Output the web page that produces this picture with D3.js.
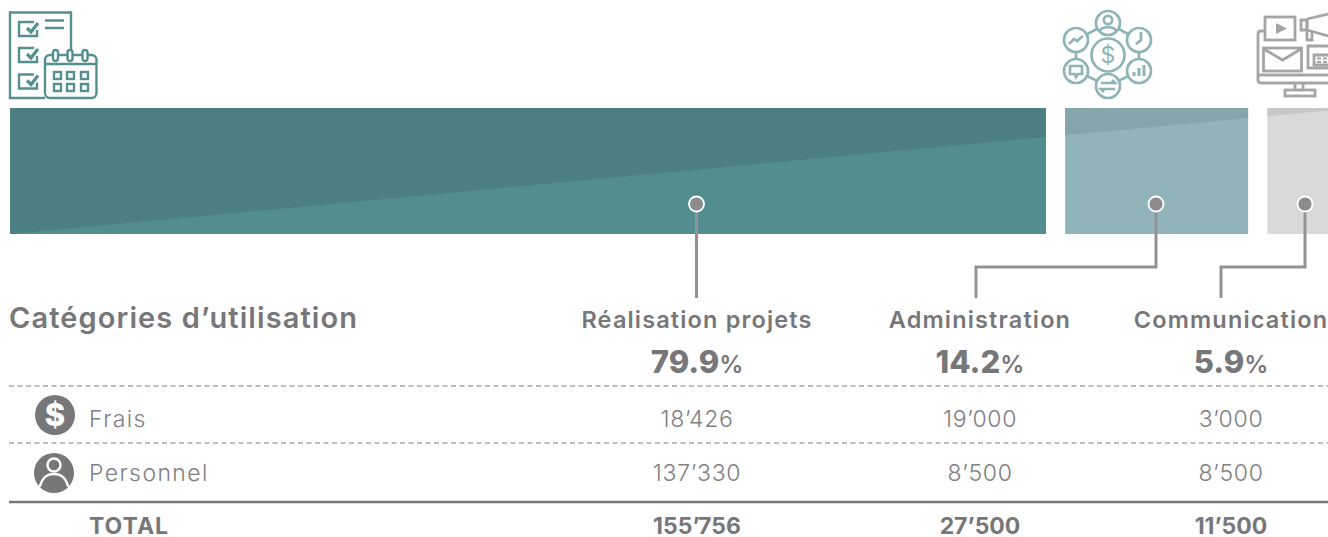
<!DOCTYPE html>
<html><head><meta charset="utf-8">
<script src="https://cdnjs.cloudflare.com/ajax/libs/d3/7.8.5/d3.min.js"></script>
<style>
html,body{margin:0;padding:0;background:#fff;overflow:hidden}
svg{display:block;font-family:Inter,"Open Sans",sans-serif}
</style></head><body>
<svg id="c" width="1328" height="537"></svg>
<script>
const categories = ["Réalisation projets","Administration","Communication"];
const frais = [18426,19000,3000];
const personnel = [137330,8500,8500];
const totals = [155756,27500,11500];
const percents = ["79.9","14.2","5.9"];
const fraisLabels = ["18’426","19’000","3’000"];
const personnelLabels = ["137’330","8’500","8’500"];
const totalLabels = ["155’756","27’500","11’500"];
const barFill = ["#528e8f","#90b4b7","#d9d9d9"];
const barShade = ["#4c7f81","#84a6aa","#c6c7c9"];

const svg = d3.select("#c");
const grand = d3.sum(totals);
const x = d3.scaleLinear().domain([0,grand]).range([0,1295.4]);
const gap = 19.2, left = 10, barTop = 108, barBottom = 234;
let run = 0;
const bars = totals.map((t,i)=>{const b={i,x0:left+x(run)+gap*i,w:x(t)};run+=t;return b;});
const slope = (137-234)/1036;
const shadeY = px => barBottom + (px-left)*slope;
const g = svg.append("g");
g.selectAll("rect.bar").data(bars).join("rect").attr("class","bar")
 .attr("x",d=>d.x0).attr("y",barTop).attr("width",d=>d.w).attr("height",barBottom-barTop)
 .attr("fill",d=>barFill[d.i]);
g.selectAll("path.shade").data(bars).join("path").attr("class","shade")
 .attr("fill",d=>barShade[d.i])
 .attr("d",d=>{const x1=d.x0+d.w;return d3.line()([[d.x0,barTop],[x1,barTop],[x1,shadeY(x1)],[d.x0,shadeY(d.x0)]])+"Z";});

// connectors
const grey="#939395";
const columns=[697,980,1231];
const anchors=[696.5,1156,1305];
const elbow=267, lineEnd=298, dotY=204;
anchors.forEach((a,i)=>{
  const pts = i===0 ? [[a,dotY],[a,lineEnd]] : [[a,dotY],[a,elbow],[i===1?976:1221,elbow],[i===1?976:1221,lineEnd]];
  svg.append("path").attr("d",d3.line()(pts)).attr("fill","none").attr("stroke",grey).attr("stroke-width",3);
  svg.append("circle").attr("cx",a).attr("cy",dotY).attr("r",7.5).attr("fill","#8c8c8f").attr("stroke","#fff").attr("stroke-width",1.8);
});

// text
const ink="#77777a", soft="#808083";
svg.append("text").attr("x",9).attr("y",328).attr("font-size",29).attr("font-weight",600).attr("fill",ink).attr("letter-spacing",1.1).text("Catégories d’utilisation");
svg.selectAll("text.h").data(categories).join("text").attr("class","h")
 .attr("x",(d,i)=>columns[i]).attr("y",327.5).attr("text-anchor","middle").attr("font-size",23.5).attr("font-weight",600).attr("fill",ink).attr("letter-spacing",1.15).text(d=>d);
const pct=svg.selectAll("text.p").data(percents).join("text").attr("class","p")
 .attr("x",(d,i)=>columns[i]).attr("y",373).attr("text-anchor","middle").attr("fill",ink);
pct.append("tspan").attr("font-size",31).attr("font-weight",800).text(d=>d);
pct.append("tspan").attr("font-size",24).attr("font-weight",600).text("%");

function row(labels,y,opts){
  svg.selectAll("text.r"+y).data(labels).join("text").attr("class","r"+y)
   .attr("x",(d,i)=>columns[i]).attr("y",y).attr("text-anchor","middle").attr("font-size",opts.size)
   .attr("font-weight",opts.w).attr("fill",opts.c).attr("letter-spacing",opts.ls).text(d=>d);
}
const reg={size:23,w:350,c:soft,ls:0.7}, bold={size:23,w:700,c:ink,ls:0};
row(fraisLabels,427,reg); row(personnelLabels,481,reg); row(totalLabels,534,bold);
const rowNames=[["Frais",427,reg],["Personnel",481,reg],["TOTAL",534,bold]];
rowNames.forEach(([t,y,o])=>svg.append("text").attr("x",89).attr("y",y).attr("font-size",o.size).attr("font-weight",o.w).attr("fill",o.c).attr("letter-spacing",o===reg?1.4:1).text(t));

// rules
[386,443].forEach(y=>svg.append("line").attr("x1",9).attr("x2",1328).attr("y1",y).attr("y2",y).attr("stroke","#a8a8aa").attr("stroke-width",1.5).attr("stroke-dasharray","5 3.5"));
svg.append("line").attr("x1",9).attr("x2",1328).attr("y1",502).attr("y2",502).attr("stroke","#77777a").attr("stroke-width",2.5);

// row icons
const fi=svg.append("g").attr("transform","translate(55,415)");
fi.append("circle").attr("r",20).attr("fill",ink);
fi.append("text").attr("y",11).attr("text-anchor","middle").attr("font-size",31).attr("font-weight",800).attr("fill","#fff").text("$");
const pi=svg.append("g").attr("transform","translate(54,473)");
pi.append("circle").attr("r",20).attr("fill",ink);
pi.append("circle").attr("cy",-8).attr("r",6.5).attr("fill","none").attr("stroke","#fff").attr("stroke-width",2.4);
pi.append("path").attr("d","M-14,13 C-11,3 -6,1 0,1 C6,1 11,3 14,13").attr("fill","none").attr("stroke","#fff").attr("stroke-width",2.4).attr("stroke-linecap","round");

// top icon 1: checklist + calendar
const t1="#558f92";
const i1=svg.append("g").attr("fill","none").attr("stroke",t1).attr("stroke-width",2.4);
i1.append("path").attr("d","M45,98 H10 V12.5 H71 V55");
[22,48,74.5].forEach(y=>{
  i1.append("path").attr("d",`M34,${y} H19 V${y+14} H37 V${y+8}`);
  i1.append("path").attr("d",`M27,${y+6} L31,${y+10} L38,${y+1}`).attr("stroke-width",3.2);
});
i1.append("path").attr("d","M45,20.5 H64 M45,28 H64");
i1.append("rect").attr("x",45).attr("y",55).attr("width",51.5).attr("height",43).attr("rx",5).attr("fill","#fff");
i1.append("path").attr("d","M45,64 H96.5");
[55.5,70,85].forEach(px=>i1.append("rect").attr("x",px-2.5).attr("y",50).attr("width",5).attr("height",11).attr("rx",2.5).attr("fill","#fff"));
[72,84].forEach(y=>[54,67,81].forEach(px=>i1.append("rect").attr("x",px).attr("y",y).attr("width",7).attr("height",7)));

// top icon 2: network
const t2="#8fb4b8";
const i2=svg.append("g").attr("fill","none").attr("stroke",t2).attr("stroke-width",2.7);
const sats=[[1108,23],[1139,40],[1139,71],[1108,86],[1076,71],[1076,40]];
i2.append("path").attr("d",d3.line().curve(d3.curveLinearClosed)(sats));
sats.forEach(([a,b])=>i2.append("circle").attr("cx",a).attr("cy",b).attr("r",12).attr("fill","#fff"));
i2.append("circle").attr("cx",1108).attr("cy",55).attr("r",16.5).attr("fill","#fff");
i2.append("text").attr("x",1108).attr("y",63).attr("text-anchor","middle").attr("font-size",23).attr("font-weight",400).attr("fill",t2).attr("stroke","none").text("$");
i2.append("circle").attr("cx",1108).attr("cy",20).attr("r",4.2);
i2.append("path").attr("d","M1100,31 C1101,26 1115,26 1116,31");
i2.append("path").attr("d","M1141,32 V40 L1136,44");
i2.append("path").attr("d","M1134,76 V72 M1139,76 V68 M1144,76 V65").attr("stroke-width",3);
i2.append("path").attr("d","M1101,83 H1115 L1112,80 M1115,89 H1101 L1104,92");
i2.append("path").attr("d","M1070,66 H1082 V74 H1078 L1076,77 L1075,74 H1070 Z");
i2.append("path").attr("d","M1069,44 L1074,39 L1077,41 L1083,36");

// top icon 3: media
const t3="#a5a5a6";
const i3=svg.append("g").attr("fill","none").attr("stroke",t3).attr("stroke-width",2.8);
i3.append("path").attr("d","M1265,31 H1261 Q1258,31 1258,34 V80 Q1258,83 1261,83 H1328");
i3.append("path").attr("d","M1259,75 H1328");
i3.append("rect").attr("x",1265).attr("y",17).attr("width",30).attr("height",23).attr("fill","#fff");
i3.append("path").attr("d","M1276,23 L1287,28.5 L1276,34 Z").attr("fill",t3).attr("stroke","none");
i3.append("path").attr("d","M1301,20 H1307 V30 H1301 Z M1307,19 L1328,14 M1307,30 L1328,36 M1307,30 V40 H1312 V31");
i3.append("path").attr("d","M1307,19 V30");
i3.append("rect").attr("x",1263.5).attr("y",48).attr("width",38).attr("height",23).attr("fill","#fff");
i3.append("path").attr("d","M1264,49 L1282.5,60 L1301,49");
i3.append("path").attr("d","M1328,46 H1308 V68 H1328");
i3.append("path").attr("d","M1328,55 H1314 V65 H1328");
i3.append("path").attr("d","M1317,58.5 H1328 M1317,62 H1328").attr("stroke-dasharray","4 2").attr("stroke-width",2);
i3.append("path").attr("d","M1295,83 V90 M1303,83 V90");
i3.append("rect").attr("x",1285).attr("y",90).attr("width",30).attr("height",6);
</script>
</body></html>
